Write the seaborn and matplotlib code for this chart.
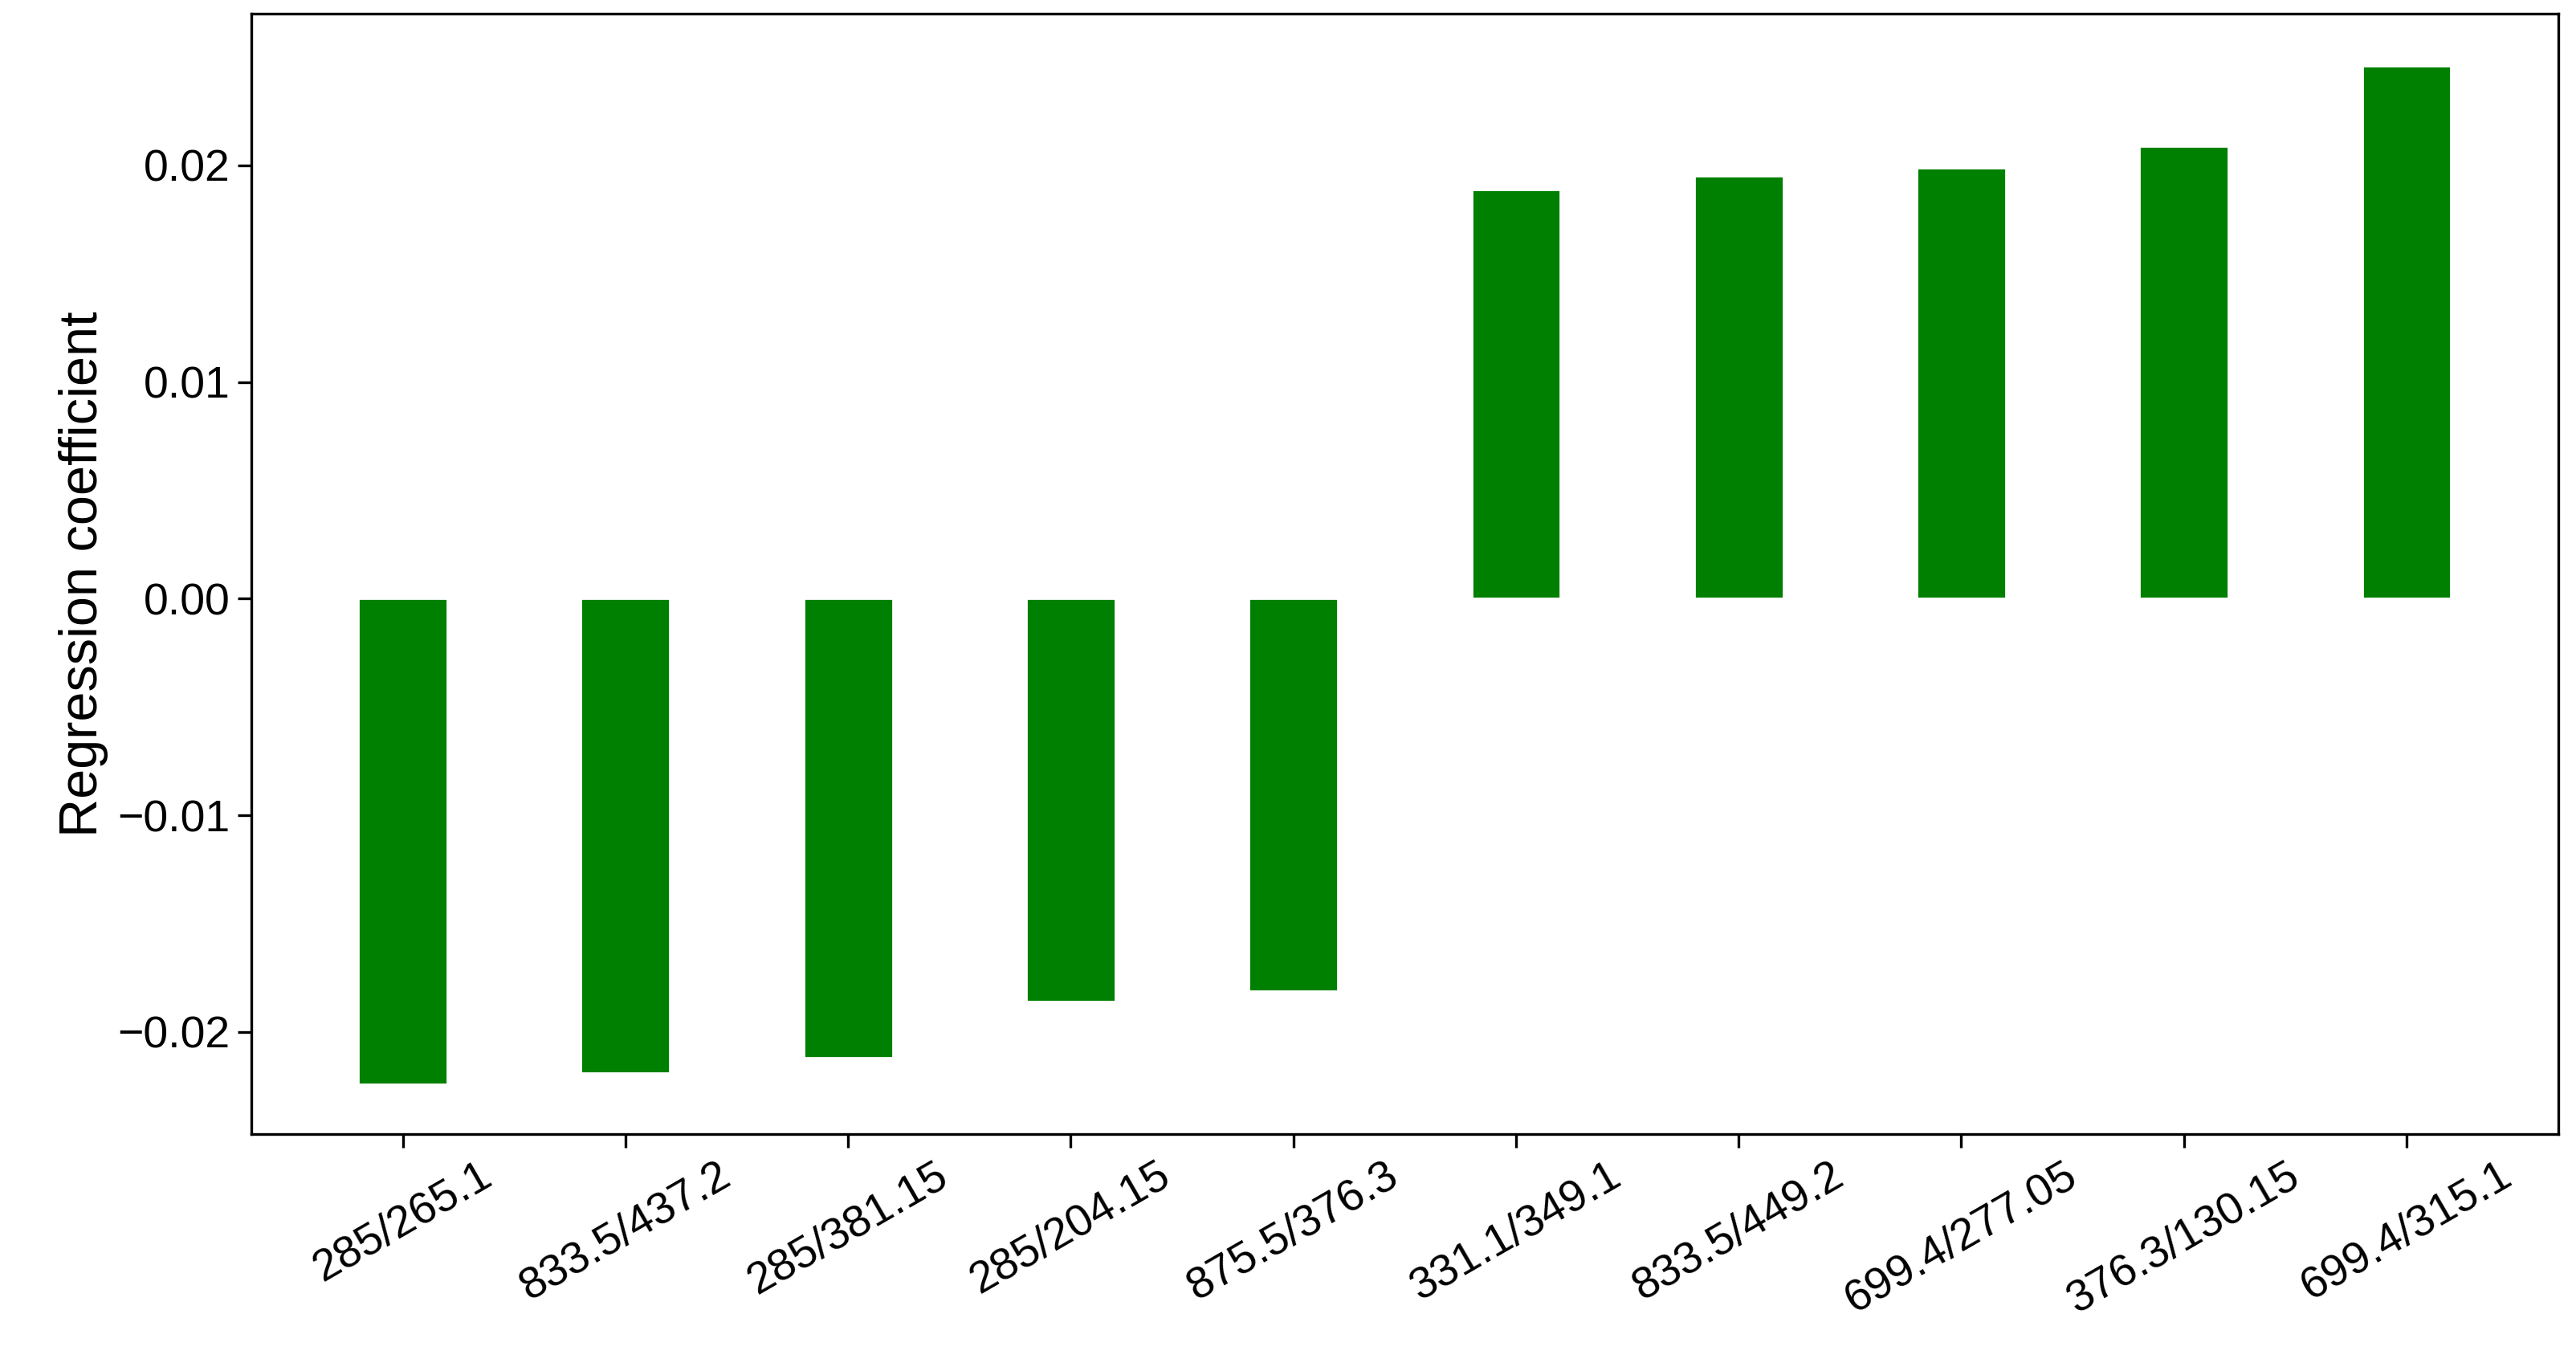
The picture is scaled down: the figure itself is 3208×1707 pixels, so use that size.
import matplotlib
matplotlib.use("Agg")
import matplotlib.pyplot as plt
import seaborn as sns
import pandas as pd

labels = ['285/265.1', '833.5/437.2', '285/381.15', '285/204.15', '875.5/376.3',
          '331.1/349.1', '833.5/449.2', '699.4/277.05', '376.3/130.15', '699.4/315.1']
coef = [-0.0224, -0.0219, -0.0212, -0.0186, -0.0181,
        0.0189, 0.0195, 0.0199, 0.0209, 0.0246]

df = pd.DataFrame({'pair': labels, 'coef': coef})

sns.set_style('ticks')
plt.rcParams['font.family'] = ['Liberation Sans', 'DejaVu Sans']
plt.rcParams['text.color'] = 'black'
plt.rcParams['axes.labelcolor'] = 'black'
plt.rcParams['xtick.color'] = 'black'
plt.rcParams['ytick.color'] = 'black'
plt.rcParams['axes.edgecolor'] = 'black'

fig = plt.figure(figsize=(16.04, 8.535), dpi=200)
ax = fig.add_axes([0.0976, 0.173, 0.8954, 0.817])
sns.barplot(data=df, x='pair', y='coef', color='green', saturation=1, width=0.4, ax=ax)
ax.set_xlim(-0.68, 9.68)
ax.set_ylim(-0.0247, 0.027)
ax.set_yticks([-0.02, -0.01, 0.0, 0.01, 0.02])
ax.set_yticklabels(['\u22120.02', '\u22120.01', '0.00', '0.01', '0.02'])
ax.set_xlabel('')
ax.set_ylabel('Regression coefficient', fontsize=24)
ax.tick_params(axis='both', labelsize=20, length=6, width=1.2)
for s in ax.spines.values():
    s.set_linewidth(1.2)
plt.setp(ax.get_xticklabels(), rotation=30, ha='center', rotation_mode='default')
fig.savefig('out.png', dpi=200)
